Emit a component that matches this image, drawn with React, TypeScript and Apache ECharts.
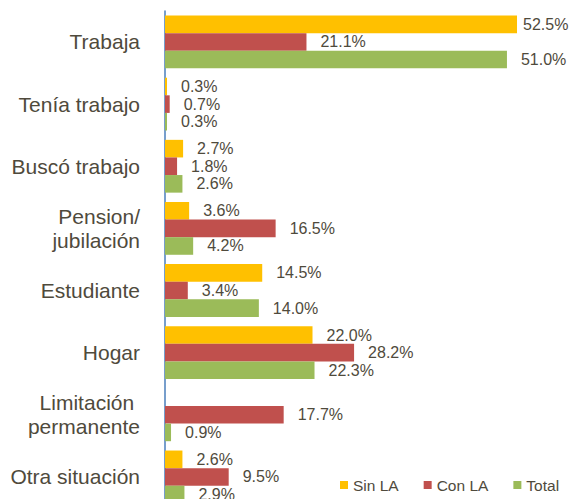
import React, { useEffect, useRef } from "react";
import * as echarts from "echarts";

const categories = [
  "Trabaja",
  "Tenía trabajo",
  "Buscó trabajo",
  "Pension/\njubilación",
  "Estudiante",
  "Hogar",
  "Limitación \npermanente",
  "Otra situación",
];
const seriesNames = ["Sin LA", "Con LA", "Total"];
const sinLA: (number | null)[] = [52.5, 0.3, 2.7, 3.6, 14.5, 22.0, null, 2.6];
const conLA: (number | null)[] = [21.1, 0.7, 1.8, 16.5, 3.4, 28.2, 17.7, 9.5];
const total: (number | null)[] = [51.0, 0.3, 2.6, 4.2, 14.0, 22.3, 0.9, 2.9];
const colors = ["#FFC000", "#C0504D", "#9BBB59"];

const FONT = "'Liberation Sans', Arial, sans-serif";
const TEXT = "#4F4A3C";

export default function App() {
  const ref = useRef<HTMLDivElement>(null);
  useEffect(() => {
    if (!ref.current) return;
    const chart = echarts.init(ref.current, undefined, { renderer: "svg" });
    const mk = (name: string, vals: (number | null)[], color: string) => ({
      name,
      type: "bar",
      barWidth: 17.6,
      barGap: "0%",
      itemStyle: { color },
      data: vals.map((v) =>
        v === null
          ? "-"
          : { value: v, label: { distance: v > 52 ? 6 : 14 } }
      ),
      label: {
        show: true,
        position: "right",
        color: TEXT,
        fontSize: 16,
        fontFamily: FONT,
        formatter: (p: any) => `${Number(p.value).toFixed(1)}%`,
      },
    });
    chart.setOption({
      animation: false,
      textStyle: { fontFamily: FONT },
      grid: { left: 165, top: 10.9, width: 402.3, height: 497.1, containLabel: false },
      legend: {
        data: seriesNames,
        left: 335,
        top: 471,
        icon: "rect",
        itemWidth: 8,
        itemHeight: 8,
        itemGap: 25,
        textStyle: { color: TEXT, fontSize: 15.5, fontFamily: FONT, lineHeight: 18 },
      },
      xAxis: {
        type: "value",
        min: 0,
        max: 60,
        show: false,
      },
      yAxis: {
        type: "category",
        inverse: true,
        data: categories,
        axisLine: { show: true, lineStyle: { color: "#4A7EBB", width: 1.5 } },
        axisTick: { show: false },
        axisLabel: {
          color: TEXT,
          fontSize: 21,
          lineHeight: 24,
          margin: 25,
          fontFamily: FONT,
          align: "right",
        },
        splitLine: { show: false },
      },
      series: [
        mk(seriesNames[0], sinLA, colors[0]),
        mk(seriesNames[1], conLA, colors[1]),
        mk(seriesNames[2], total, colors[2]),
      ],
    });
    return () => chart.dispose();
  }, []);
  return (
    <div
      ref={ref}
      style={{ position: "fixed", left: 0, top: 0, width: 571, height: 520, background: "#fff" }}
    />
  );
}
